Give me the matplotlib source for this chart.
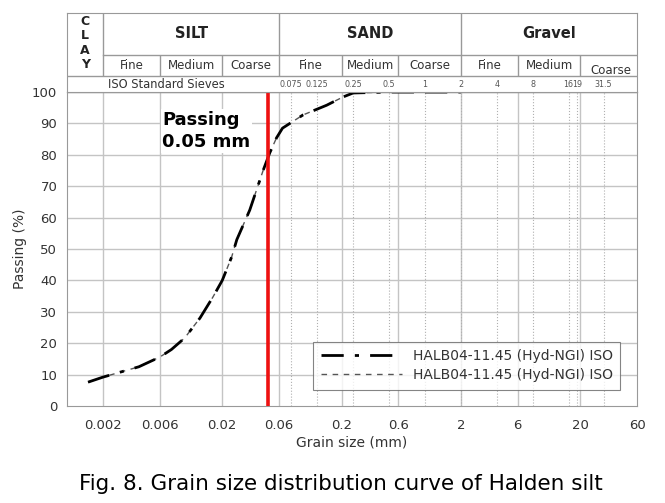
import numpy as np
import matplotlib
matplotlib.use('Agg')
import matplotlib.pyplot as plt

# grain size curve (mm, % passing)
size_mm = [0.0015, 0.002, 0.004, 0.006, 0.0075, 0.0097, 0.013, 0.0167, 0.02, 0.024,
           0.0265, 0.034, 0.044, 0.05, 0.057, 0.064, 0.095, 0.15, 0.205, 0.25,
           0.5, 1.0, 2.0]
passing = [7.6, 9.2, 12.5, 15.6, 18.0, 21.7, 28.0, 34.7, 40.0, 47.5,
           53.0, 62.4, 75.0, 80.6, 85.4, 88.5, 92.7, 95.8, 98.4, 99.7,
           100.0, 100.0, 100.0]

xticks = [0.002, 0.006, 0.02, 0.06, 0.2, 0.6, 2, 6, 20, 60]
xtick_labels = ['0.002', '0.006', '0.02', '0.06', '0.2', '0.6', '2', '6', '20', '60']
sieves = [0.075, 0.125, 0.25, 0.5, 1, 2, 4, 8, 16, 19, 31.5]
sieve_labels = ['0.075', '0.125', '0.25', '0.5', '1', '2', '4', '8', '16', '19', '31.5']

# classification (header) boundaries
major_bounds = [0.002, 0.06, 2]
minor_bounds = [0.006, 0.02, 0.2, 0.6, 6, 20]
main_classes = ['SILT', 'SAND', 'Gravel']
main_centres = [0.011, 0.35, 11.0]
sub_classes = ['Fine', 'Medium', 'Coarse'] * 3
sub_centres = [0.0035, 0.011, 0.035, 0.11, 0.35, 1.1, 3.5, 11.0, 36.0]

x_lo, x_hi = 0.001, 60.
grid_c = '#c4c4c4'
txt_c = '#333333'

fig = plt.figure(figsize=(6.65, 5.03), dpi=100)
ax = fig.add_axes([0.1008, 0.1928, 0.8572, 0.6242])
ax.set_xscale('log')
ax.set_xlim(x_lo, x_hi)
ax.set_ylim(0, 100)

for xv in xticks[:-1]:
    ax.axvline(xv, color=grid_c, lw=1.0, zorder=1)
for yv in range(10, 100, 10):
    ax.axhline(yv, color=grid_c, lw=1.0, zorder=1)
ax.axhline(100, color='#999999', lw=1.0, zorder=1)
for xv in sieves:
    ax.axvline(xv, color='#b0b0b0', lw=0.8, ls=':', zorder=1)

ax.plot(size_mm, passing, color='k', lw=2.0, ls=(0, (8, 4, 1.5, 4, 8, 4)), zorder=4,
        label='HALB04-11.45 (Hyd-NGI) ISO')
ax.plot(size_mm, passing, color='#555555', lw=1.0, ls=(0, (4, 4)), zorder=3,
        label='HALB04-11.45 (Hyd-NGI) ISO')

ax.axvline(0.048, color='#ee1111', lw=2.6, zorder=5)
ax.text(0.0063, 94, 'Passing\n0.05 mm', fontsize=13, fontweight='bold', ha='left', va='top',
        linespacing=1.3, zorder=6, bbox=dict(facecolor='white', edgecolor='none', pad=1))

ax.set_xticks(xticks)
ax.set_xticklabels(xtick_labels)
ax.minorticks_off()
ax.set_yticks(np.arange(0, 101, 10))
ax.tick_params(length=0, labelsize=9.5, colors=txt_c)
ax.tick_params(axis='x', pad=9)
ax.tick_params(axis='y', pad=7)
for s in ax.spines.values():
    s.set_color('#999999')
ax.set_xlabel('Grain size (mm)', fontsize=10, color=txt_c, labelpad=3)
ax.set_ylabel('Passing (%)', fontsize=10, color=txt_c, labelpad=4)

leg = ax.legend(loc='lower right', bbox_to_anchor=(0.983, 0.03), fontsize=10, handlelength=5.8,
                frameon=True, fancybox=False, borderpad=0.55, labelspacing=0.35, handletextpad=0.8)
leg.get_frame().set_edgecolor('#666666')
leg.get_frame().set_linewidth(0.8)
for t in leg.get_texts():
    t.set_color(txt_c)

# header table above the plot
hx = fig.add_axes([0.1008, 0.817, 0.8572, 0.157])
hx.set_xscale('log')
hx.set_xlim(x_lo, x_hi)
hx.set_ylim(0, 1)
hx.set_xticks([])
hx.set_yticks([])
hx.minorticks_off()
for s in hx.spines.values():
    s.set_color('#999999')
row_iso, row_sub = 0.2025, 0.468
hx.axhline(row_iso, color='#999999', lw=1.0)
hx.plot([0.002, x_hi], [row_sub, row_sub], color='#999999', lw=1.0)
hx.vlines(major_bounds, row_iso, 1, color='#999999', lw=1.0)
hx.vlines(minor_bounds, row_iso, row_sub, color='#999999', lw=1.0)

for name, xc in zip(main_classes, main_centres):
    hx.text(xc, 0.74, name, ha='center', va='center', fontsize=10.5, fontweight='bold', color='#222222')
for i, (name, xc) in enumerate(zip(sub_classes, sub_centres)):
    yy = 0.27 if i == 8 else 0.335
    hx.text(xc, yy, name, ha='center', va='center', fontsize=8.5, color=txt_c)
for i, ch in enumerate('CLAY'):
    hx.text(0.00142, 0.89 - i * 0.18, ch, ha='center', va='center', fontsize=9,
            fontweight='bold', color='#222222')
hx.text(0.0068, 0.10, 'ISO Standard Sieves', ha='center', va='center', fontsize=8.3, color=txt_c)
for xv, lab in zip(sieves, sieve_labels):
    hx.text(xv, 0.10, lab, ha='center', va='center', fontsize=5.8, color='#555555')

fig.text(0.512, 0.038, 'Fig. 8. Grain size distribution curve of Halden silt',
         ha='center', va='center', fontsize=15.5, color='black')

fig.savefig('out.png', dpi=100)
